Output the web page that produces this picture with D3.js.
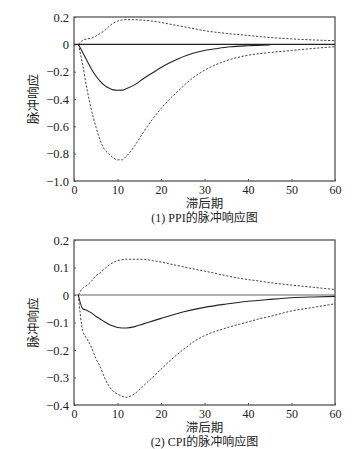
<!DOCTYPE html>
<html lang="zh">
<head>
  <meta charset="UTF-8">
  <title>脉冲响应图</title>
  <style>
    * {
      margin: 0;
      padding: 0;
    }
    body {
      background: #fff;
    }
    text {
      font-family: "Liberation Serif", "Noto Sans CJK SC", serif;
      fill: #222;
    }
  </style>
</head>
<body>
  <script src="https://d3js.org/d3.v7.min.js"></script>
  <script>
    // PPI panel: lag -> response
    const ppiLags = [1, 2, 3, 4, 5, 6, 7, 8, 9, 10, 11, 12, 14, 16, 18, 20, 22, 24, 26, 28, 30, 33, 36, 40, 45]
    const ppiMid = [0, -0.06, -0.12, -0.18, -0.23, -0.27, -0.30, -0.32, -0.333, -0.336, -0.335, -0.325, -0.295, -0.25, -0.21, -0.17, -0.135, -0.105, -0.08, -0.06, -0.045, -0.03, -0.018, -0.01, -0.004]

    const ppiBandLags = [1, 2, 3, 4, 5, 6, 7, 8, 9, 10, 11, 12, 14, 16, 18, 20, 22, 24, 26, 28, 30, 35, 40, 45, 50, 55, 60]
    const ppiUpper = [0, 0.03, 0.04, 0.045, 0.06, 0.08, 0.10, 0.13, 0.155, 0.17, 0.178, 0.18, 0.18, 0.176, 0.17, 0.16, 0.148, 0.136, 0.124, 0.112, 0.10, 0.08, 0.065, 0.05, 0.04, 0.032, 0.027]
    const ppiLower = [0, -0.15, -0.33, -0.48, -0.60, -0.70, -0.77, -0.80, -0.83, -0.845, -0.845, -0.82, -0.74, -0.64, -0.55, -0.47, -0.40, -0.34, -0.28, -0.23, -0.19, -0.12, -0.08, -0.06, -0.045, -0.03, -0.017]

    // CPI panel
    const cpiLags = [1, 2, 3, 4, 5, 6, 7, 8, 9, 10, 12, 14, 16, 20, 25, 30, 35, 40, 45, 50, 55, 60]
    const cpiMid = [0, -0.05, -0.056, -0.065, -0.077, -0.087, -0.097, -0.106, -0.113, -0.118, -0.12, -0.115, -0.105, -0.085, -0.062, -0.045, -0.033, -0.023, -0.016, -0.01, -0.007, -0.005]

    const cpiBandLags = [1, 2, 3, 4, 5, 6, 7, 8, 9, 10, 11, 12, 14, 16, 18, 20, 22, 25, 28, 30, 35, 40, 43, 45, 50, 55, 60]
    const cpiUpper = [0, 0.025, 0.035, 0.05, 0.07, 0.08, 0.095, 0.108, 0.118, 0.125, 0.128, 0.13, 0.13, 0.13, 0.125, 0.12, 0.113, 0.103, 0.093, 0.087, 0.07, 0.056, 0.05, 0.045, 0.036, 0.028, 0.02]
    const cpiLower = [0, -0.13, -0.16, -0.19, -0.23, -0.26, -0.30, -0.33, -0.35, -0.36, -0.368, -0.372, -0.358, -0.33, -0.30, -0.27, -0.24, -0.20, -0.165, -0.148, -0.12, -0.098, -0.085, -0.078, -0.058, -0.045, -0.032]

    const xTicks = [0, 10, 20, 30, 40, 50, 60]
    const ppiTicks = [0.2, 0, -0.2, -0.4, -0.6, -0.8, -1.0]
    const cpiTicks = [0.2, 0.1, 0, -0.1, -0.2, -0.3, -0.4]

    const yTitle = '脉冲响应'
    const xTitle = '滞后期'

    const width = 362
    const height = 449

    const svg = d3.select('body')
      .append('svg')
      .attr('width', width)
      .attr('height', height)

    const fmt = d => d === 0 ? '0' : (d < 0 ? '\u2212' : '') + Math.abs(d).toFixed(1)

    const drawPanel = (opt) => {
      const left = 74, right = 335
      const top = opt.top, bottom = opt.bottom

      const x = d3.scaleLinear().domain([0, 60]).range([left, right])
      const y = d3.scaleLinear().domain(opt.domain).range([bottom, top])

      const g = svg.append('g')

      // frame
      g.append('rect')
        .attr('x', left)
        .attr('y', top)
        .attr('width', right - left)
        .attr('height', bottom - top)
        .attr('fill', 'none')
        .attr('stroke', '#555')
        .attr('stroke-width', 1.3)

      const xAxis = d3.axisBottom(x)
        .tickValues(xTicks)
        .tickSizeInner(-2)
        .tickSizeOuter(0)
        .tickPadding(4)
      const gx = g.append('g')
        .attr('transform', `translate(0, ${bottom})`)
        .call(xAxis)
      gx.select('.domain').remove()
      gx.selectAll('line').attr('stroke', '#555')
      gx.selectAll('text')
        .attr('font-size', 12)
        .attr('font-family', '"Liberation Serif", serif')
        .attr('fill', '#222')

      const yAxis = d3.axisLeft(y)
        .tickValues(opt.ticks)
        .tickFormat(fmt)
        .tickSizeInner(-2)
        .tickSizeOuter(0)
        .tickPadding(5)
      const gy = g.append('g')
        .attr('transform', `translate(${left}, 0)`)
        .call(yAxis)
      gy.select('.domain').remove()
      gy.selectAll('line').attr('stroke', '#555')
      gy.selectAll('text')
        .attr('font-size', 12.5)
        .attr('font-family', '"Liberation Serif", serif')
        .attr('fill', '#222')

      // zero line
      g.append('line')
        .attr('x1', left)
        .attr('x2', right)
        .attr('y1', y(0))
        .attr('y2', y(0))
        .attr('stroke', opt.zeroColor)
        .attr('stroke-width', 1.2)

      const line = d3.line()
        .x(d => x(d[0]))
        .y(d => y(d[1]))
        .curve(d3.curveMonotoneX)

      const band = (vals) => opt.bandLags.map((l, i) => [l, vals[i]])

      g.append('path')
        .datum(band(opt.upper))
        .attr('d', line)
        .attr('fill', 'none')
        .attr('stroke', '#444')
        .attr('stroke-width', 1)
        .attr('stroke-dasharray', '2.2,1.6')

      g.append('path')
        .datum(band(opt.lower))
        .attr('d', line)
        .attr('fill', 'none')
        .attr('stroke', '#444')
        .attr('stroke-width', 1)
        .attr('stroke-dasharray', '2.2,1.6')

      g.append('path')
        .datum(opt.lags.map((l, i) => [l, opt.mid[i]]))
        .attr('d', line)
        .attr('fill', 'none')
        .attr('stroke', '#222')
        .attr('stroke-width', 1.1)

      // titles
      g.append('text')
        .attr('transform', `translate(38, ${(top + bottom) / 2}) rotate(-90)`)
        .attr('text-anchor', 'middle')
        .attr('font-size', 12.5)
        .attr('font-family', '"Noto Sans CJK SC", sans-serif')
        .text(yTitle)

      g.append('text')
        .attr('x', (left + right) / 2)
        .attr('y', bottom + 27)
        .attr('text-anchor', 'middle')
        .attr('font-size', 12.5)
        .attr('font-family', '"Noto Sans CJK SC", sans-serif')
        .text(xTitle)

      g.append('text')
        .attr('x', (left + right) / 2)
        .attr('y', bottom + 40.5)
        .attr('text-anchor', 'middle')
        .attr('font-size', 12)
        .text(opt.caption)
    }

    drawPanel({
      top: 17, bottom: 181,
      domain: [-1.0, 0.2],
      ticks: ppiTicks,
      lags: ppiLags, mid: ppiMid,
      bandLags: ppiBandLags, upper: ppiUpper, lower: ppiLower,
      zeroColor: '#222',
      caption: '(1) PPI的脉冲响应图'
    })

    drawPanel({
      top: 240, bottom: 405,
      domain: [-0.4, 0.2],
      ticks: cpiTicks,
      lags: cpiLags, mid: cpiMid,
      bandLags: cpiBandLags, upper: cpiUpper, lower: cpiLower,
      zeroColor: '#666',
      caption: '(2) CPI的脉冲响应图'
    })
  </script>
</body>
</html>
